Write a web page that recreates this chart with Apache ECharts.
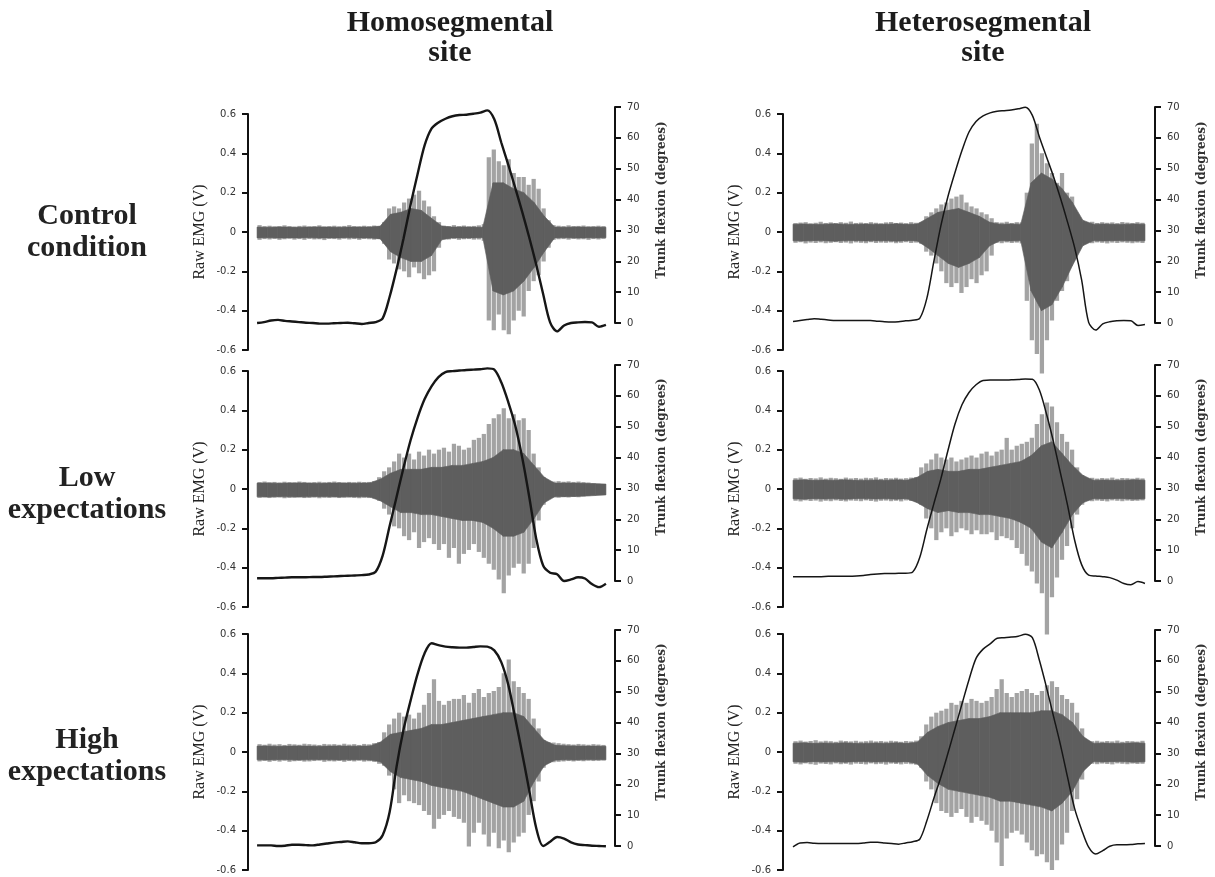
<!DOCTYPE html>
<html><head><meta charset="utf-8">
<script src="https://cdn.jsdelivr.net/npm/echarts@6/dist/echarts.min.js"></script>
<style>html,body{margin:0;padding:0;background:#fff}#c{width:1215px;height:877px}</style>
</head><body><div id="c"></div><script>
const colTitles = [['Homosegmental','site'],['Heterosegmental','site']];
const rowLabels = [['Control','condition'],['Low','expectations'],['High','expectations']];
const emgName = 'Raw EMG (V)';
const flexName = 'Trunk flexion (degrees)';

// Trunk flexion (degrees), sampled every 2% of the trial
const flexHomoControl = [0.0,0.3,0.8,1.0,0.7,0.5,0.3,0.1,0.0,-0.2,-0.2,-0.1,0.0,0.1,-0.1,-0.3,0.0,0.3,1.5,8.5,17.5,27.5,38.3,48.2,57.5,63.0,65.0,66.2,67.0,67.4,67.5,67.8,68.2,68.9,66.0,58.5,51.3,43.8,36.0,27.8,19.0,9.4,0.2,-2.7,-0.8,0.0,0.2,0.3,0.2,-1.2,-0.6];
const flexHeteroControl = [0.5,0.8,1.1,1.4,1.2,1.0,0.8,0.8,0.8,0.8,0.8,0.8,0.6,0.4,0.3,0.4,0.7,0.9,1.5,7.9,19.9,31.5,40.9,48.7,55.9,61.9,65.3,67.1,68.1,68.6,68.8,69.0,69.4,69.9,67.3,60.3,53.9,47.5,40.4,32.7,24.5,14.0,0.2,-2.3,-0.3,0.4,0.7,0.8,0.7,-0.8,-0.5];
const flexHomoLow = [0.9,0.9,0.9,1.0,1.1,1.2,1.2,1.2,1.3,1.3,1.4,1.5,1.6,1.7,1.8,1.9,2.1,3.0,8.2,17.8,27.3,36.8,45.6,52.9,58.9,63.1,66.1,67.7,68.0,68.2,68.4,68.5,68.6,68.9,68.5,64.4,58.0,50.4,40.0,27.4,13.8,5.0,2.7,2.2,0.0,0.5,1.2,0.8,-1.0,-2.0,-0.9];
const flexHeteroLow = [1.4,1.4,1.4,1.4,1.4,1.5,1.5,1.5,1.5,1.6,1.8,2.1,2.3,2.4,2.4,2.5,2.5,2.9,7.6,16.6,25.0,33.1,42.2,50.8,57.1,61.1,63.6,65.0,65.1,65.1,65.1,65.2,65.3,65.5,65.4,61.9,54.2,45.1,34.9,24.6,13.3,5.3,1.9,1.6,1.4,1.1,0.3,-0.8,-1.2,-0.2,-0.8];
const flexHomoHigh = [0.2,0.2,0.2,0.0,0.1,0.4,0.4,0.3,0.2,0.5,0.8,1.1,1.3,1.5,1.2,0.9,0.9,1.2,3.5,11.0,25.8,37.8,47.1,55.7,62.4,65.7,65.1,64.6,64.4,64.3,64.3,64.5,64.7,64.6,63.4,59.6,52.3,41.4,30.0,18.1,5.9,0.0,1.4,2.9,2.4,1.2,0.5,0.3,0.1,0.0,-0.1];
const flexHeteroHigh = [-0.3,1.0,1.1,0.9,0.8,0.8,0.8,0.8,0.8,0.8,1.0,1.2,1.2,1.0,0.8,0.6,1.0,1.4,2.2,8.1,15.4,22.3,30.0,38.0,46.0,53.9,60.8,63.8,65.5,67.3,67.5,67.7,68.0,68.6,67.5,60.2,51.5,42.1,32.7,22.3,12.2,5.3,-0.4,-2.6,-1.5,-0.1,0.4,0.4,0.5,0.7,0.8];

// Raw EMG envelope (V): positive and negative peaks, 70 slices of the trial
const emgHiHomoControl = [0.035,0.030,0.032,0.028,0.030,0.034,0.030,0.027,0.031,0.033,0.029,0.030,0.034,0.028,0.030,0.032,0.029,0.031,0.035,0.030,0.028,0.032,0.030,0.033,0.029,0.05,0.12,0.13,0.12,0.15,0.17,0.19,0.21,0.16,0.13,0.08,0.05,0.032,0.03,0.035,0.03,0.033,0.029,0.031,0.034,0.04,0.38,0.42,0.36,0.34,0.37,0.3,0.28,0.28,0.24,0.27,0.22,0.12,0.06,0.035,0.032,0.03,0.034,0.03,0.031,0.033,0.029,0.03,0.032,0.03];
const emgLoHomoControl = [-0.04,-0.036,-0.038,-0.035,-0.04,-0.037,-0.034,-0.039,-0.036,-0.04,-0.035,-0.038,-0.037,-0.041,-0.035,-0.036,-0.039,-0.034,-0.038,-0.036,-0.04,-0.035,-0.037,-0.039,-0.036,-0.06,-0.14,-0.16,-0.19,-0.2,-0.23,-0.18,-0.21,-0.24,-0.22,-0.2,-0.08,-0.036,-0.038,-0.035,-0.04,-0.037,-0.036,-0.039,-0.038,-0.045,-0.45,-0.5,-0.42,-0.5,-0.52,-0.45,-0.4,-0.43,-0.3,-0.25,-0.22,-0.15,-0.08,-0.04,-0.037,-0.036,-0.039,-0.035,-0.038,-0.037,-0.04,-0.036,-0.038,-0.035];
const emgHiHeteroControl = [0.045,0.048,0.05,0.044,0.047,0.052,0.046,0.049,0.045,0.05,0.047,0.053,0.046,0.048,0.045,0.05,0.047,0.044,0.049,0.051,0.046,0.048,0.045,0.05,0.047,0.049,0.08,0.1,0.12,0.14,0.15,0.17,0.18,0.19,0.15,0.13,0.12,0.1,0.09,0.07,0.05,0.048,0.052,0.046,0.05,0.049,0.2,0.45,0.55,0.4,0.35,0.3,0.25,0.3,0.2,0.18,0.09,0.05,0.048,0.052,0.046,0.05,0.047,0.049,0.045,0.051,0.048,0.046,0.05,0.047];
const emgLoHeteroControl = [-0.055,-0.052,-0.058,-0.054,-0.056,-0.053,-0.057,-0.055,-0.052,-0.056,-0.054,-0.058,-0.053,-0.055,-0.057,-0.052,-0.056,-0.054,-0.055,-0.053,-0.057,-0.055,-0.052,-0.056,-0.054,-0.06,-0.1,-0.12,-0.16,-0.2,-0.26,-0.28,-0.26,-0.31,-0.28,-0.24,-0.26,-0.22,-0.2,-0.12,-0.055,-0.057,-0.053,-0.056,-0.054,-0.058,-0.35,-0.55,-0.62,-0.72,-0.55,-0.45,-0.35,-0.3,-0.25,-0.15,-0.09,-0.056,-0.054,-0.057,-0.053,-0.055,-0.058,-0.054,-0.056,-0.053,-0.055,-0.057,-0.054,-0.056];
const emgHiHomoLow = [0.035,0.038,0.034,0.036,0.033,0.037,0.035,0.034,0.038,0.036,0.033,0.035,0.037,0.034,0.036,0.038,0.035,0.033,0.036,0.034,0.037,0.035,0.036,0.04,0.06,0.09,0.11,0.14,0.18,0.16,0.18,0.15,0.19,0.17,0.2,0.18,0.2,0.21,0.19,0.23,0.22,0.2,0.21,0.25,0.26,0.28,0.33,0.36,0.38,0.41,0.36,0.38,0.35,0.36,0.3,0.18,0.11,0.06,0.04,0.038,0.04,0.037,0.039,0.036,0.038,0.035,0.033,0.03,0.027,0.025];
const emgLoHomoLow = [-0.045,-0.042,-0.046,-0.044,-0.043,-0.047,-0.045,-0.044,-0.042,-0.046,-0.045,-0.043,-0.047,-0.044,-0.045,-0.042,-0.046,-0.044,-0.043,-0.045,-0.047,-0.044,-0.046,-0.048,-0.06,-0.1,-0.13,-0.19,-0.2,-0.24,-0.26,-0.22,-0.3,-0.27,-0.25,-0.28,-0.31,-0.28,-0.35,-0.3,-0.38,-0.33,-0.31,-0.28,-0.32,-0.35,-0.38,-0.41,-0.46,-0.53,-0.44,-0.4,-0.38,-0.43,-0.38,-0.3,-0.16,-0.08,-0.045,-0.042,-0.044,-0.041,-0.043,-0.04,-0.042,-0.038,-0.036,-0.033,-0.03,-0.028];
const emgHiHeteroLow = [0.055,0.058,0.052,0.056,0.054,0.059,0.053,0.057,0.055,0.052,0.058,0.054,0.056,0.053,0.057,0.055,0.059,0.052,0.056,0.054,0.057,0.053,0.055,0.058,0.06,0.11,0.13,0.15,0.18,0.16,0.15,0.16,0.14,0.15,0.16,0.17,0.16,0.18,0.19,0.17,0.19,0.2,0.26,0.2,0.22,0.23,0.24,0.26,0.33,0.38,0.44,0.42,0.34,0.28,0.24,0.2,0.11,0.07,0.055,0.057,0.053,0.056,0.054,0.058,0.052,0.056,0.055,0.053,0.057,0.054];
const emgLoHeteroLow = [-0.06,-0.063,-0.058,-0.061,-0.059,-0.064,-0.06,-0.062,-0.058,-0.061,-0.063,-0.059,-0.06,-0.062,-0.058,-0.061,-0.064,-0.06,-0.059,-0.062,-0.06,-0.063,-0.058,-0.061,-0.065,-0.08,-0.15,-0.2,-0.26,-0.22,-0.2,-0.24,-0.22,-0.2,-0.21,-0.23,-0.21,-0.23,-0.23,-0.22,-0.26,-0.24,-0.25,-0.26,-0.3,-0.33,-0.39,-0.42,-0.48,-0.53,-0.74,-0.55,-0.45,-0.36,-0.29,-0.2,-0.13,-0.08,-0.06,-0.062,-0.059,-0.061,-0.063,-0.058,-0.06,-0.062,-0.059,-0.061,-0.06,-0.058];
const emgHiHomoHigh = [0.04,0.037,0.042,0.038,0.04,0.036,0.041,0.039,0.037,0.042,0.04,0.038,0.036,0.041,0.039,0.04,0.037,0.042,0.038,0.04,0.036,0.041,0.039,0.045,0.05,0.1,0.14,0.17,0.2,0.18,0.19,0.17,0.2,0.24,0.3,0.37,0.26,0.24,0.26,0.27,0.27,0.29,0.25,0.3,0.32,0.28,0.3,0.31,0.33,0.4,0.47,0.36,0.33,0.3,0.27,0.17,0.12,0.06,0.05,0.048,0.045,0.042,0.04,0.038,0.041,0.039,0.037,0.04,0.038,0.036];
const emgLoHomoHigh = [-0.048,-0.045,-0.05,-0.046,-0.049,-0.044,-0.05,-0.047,-0.045,-0.049,-0.048,-0.046,-0.044,-0.05,-0.047,-0.048,-0.045,-0.05,-0.046,-0.048,-0.044,-0.049,-0.047,-0.05,-0.06,-0.07,-0.12,-0.19,-0.26,-0.22,-0.25,-0.26,-0.27,-0.3,-0.32,-0.39,-0.34,-0.32,-0.3,-0.33,-0.34,-0.36,-0.48,-0.41,-0.36,-0.42,-0.48,-0.41,-0.49,-0.45,-0.51,-0.46,-0.43,-0.41,-0.32,-0.25,-0.15,-0.08,-0.055,-0.052,-0.05,-0.048,-0.046,-0.048,-0.045,-0.047,-0.044,-0.046,-0.045,-0.043];
const emgHiHeteroHigh = [0.055,0.058,0.053,0.056,0.06,0.054,0.057,0.055,0.052,0.058,0.056,0.054,0.057,0.053,0.055,0.058,0.054,0.056,0.053,0.057,0.055,0.052,0.056,0.054,0.058,0.08,0.14,0.18,0.2,0.21,0.22,0.25,0.24,0.26,0.25,0.27,0.26,0.25,0.26,0.28,0.32,0.37,0.3,0.28,0.3,0.31,0.32,0.3,0.29,0.31,0.34,0.36,0.33,0.29,0.27,0.25,0.2,0.12,0.06,0.055,0.057,0.053,0.056,0.054,0.058,0.052,0.056,0.055,0.053,0.057];
const emgLoHeteroHigh = [-0.06,-0.063,-0.058,-0.062,-0.065,-0.059,-0.061,-0.063,-0.058,-0.062,-0.06,-0.064,-0.059,-0.061,-0.063,-0.058,-0.062,-0.06,-0.064,-0.059,-0.061,-0.063,-0.06,-0.062,-0.065,-0.08,-0.15,-0.19,-0.26,-0.3,-0.31,-0.33,-0.31,-0.29,-0.33,-0.36,-0.33,-0.35,-0.37,-0.4,-0.46,-0.58,-0.44,-0.41,-0.4,-0.42,-0.46,-0.5,-0.53,-0.52,-0.56,-0.6,-0.55,-0.47,-0.41,-0.3,-0.24,-0.14,-0.07,-0.06,-0.062,-0.059,-0.061,-0.063,-0.058,-0.06,-0.062,-0.059,-0.061,-0.06];

// Dense core of the EMG trace (V), 35 points across the trial
const coreHiHomoControl = [0.025,0.024,0.026,0.025,0.024,0.025,0.026,0.025,0.024,0.025,0.026,0.025,0.03,0.09,0.1,0.12,0.11,0.07,0.03,0.025,0.026,0.025,0.024,0.25,0.25,0.22,0.2,0.15,0.08,0.025,0.024,0.026,0.025,0.025,0.024];
const coreLoHomoControl = [-0.03,-0.029,-0.031,-0.03,-0.03,-0.029,-0.031,-0.03,-0.03,-0.029,-0.031,-0.03,-0.035,-0.1,-0.13,-0.15,-0.15,-0.12,-0.04,-0.03,-0.031,-0.03,-0.029,-0.3,-0.32,-0.3,-0.25,-0.18,-0.1,-0.03,-0.029,-0.031,-0.03,-0.03,-0.029];
const coreHiHeteroControl = [0.04,0.041,0.039,0.04,0.042,0.04,0.039,0.041,0.04,0.04,0.042,0.039,0.041,0.07,0.1,0.11,0.12,0.1,0.08,0.05,0.04,0.041,0.04,0.25,0.3,0.27,0.22,0.15,0.06,0.04,0.041,0.039,0.04,0.041,0.04];
const coreLoHeteroControl = [-0.045,-0.046,-0.044,-0.045,-0.047,-0.045,-0.044,-0.046,-0.045,-0.045,-0.047,-0.044,-0.046,-0.08,-0.12,-0.16,-0.18,-0.16,-0.13,-0.07,-0.045,-0.046,-0.045,-0.3,-0.4,-0.37,-0.28,-0.17,-0.07,-0.045,-0.046,-0.044,-0.045,-0.046,-0.045];
const coreHiHomoLow = [0.03,0.031,0.029,0.03,0.031,0.03,0.029,0.03,0.031,0.03,0.03,0.031,0.05,0.08,0.1,0.1,0.1,0.11,0.11,0.12,0.12,0.13,0.14,0.16,0.2,0.2,0.18,0.12,0.06,0.03,0.031,0.03,0.029,0.027,0.025];
const coreLoHomoLow = [-0.04,-0.041,-0.039,-0.04,-0.041,-0.04,-0.039,-0.04,-0.041,-0.04,-0.04,-0.041,-0.06,-0.09,-0.12,-0.12,-0.13,-0.13,-0.14,-0.15,-0.16,-0.16,-0.17,-0.2,-0.24,-0.24,-0.22,-0.15,-0.07,-0.04,-0.039,-0.038,-0.036,-0.033,-0.03];
const coreHiHeteroLow = [0.045,0.047,0.044,0.046,0.045,0.047,0.044,0.045,0.046,0.045,0.047,0.044,0.06,0.09,0.1,0.09,0.09,0.1,0.1,0.11,0.12,0.13,0.14,0.17,0.22,0.24,0.18,0.12,0.07,0.045,0.046,0.044,0.045,0.047,0.045];
const coreLoHeteroLow = [-0.05,-0.052,-0.049,-0.051,-0.05,-0.052,-0.049,-0.05,-0.051,-0.05,-0.052,-0.049,-0.07,-0.1,-0.12,-0.11,-0.12,-0.12,-0.13,-0.13,-0.14,-0.15,-0.17,-0.2,-0.27,-0.3,-0.22,-0.13,-0.07,-0.05,-0.051,-0.049,-0.05,-0.052,-0.05];
const coreHiHomoHigh = [0.03,0.031,0.029,0.03,0.031,0.03,0.029,0.03,0.031,0.03,0.03,0.031,0.05,0.09,0.1,0.11,0.12,0.14,0.14,0.15,0.16,0.17,0.18,0.19,0.2,0.2,0.18,0.12,0.06,0.035,0.032,0.031,0.03,0.03,0.029];
const coreLoHomoHigh = [-0.04,-0.041,-0.039,-0.04,-0.041,-0.04,-0.039,-0.04,-0.041,-0.04,-0.04,-0.041,-0.05,-0.1,-0.13,-0.14,-0.15,-0.17,-0.18,-0.19,-0.2,-0.22,-0.24,-0.26,-0.28,-0.28,-0.25,-0.15,-0.07,-0.042,-0.04,-0.041,-0.04,-0.039,-0.04];
const coreHiHeteroHigh = [0.045,0.047,0.044,0.046,0.045,0.047,0.044,0.045,0.046,0.045,0.047,0.044,0.05,0.1,0.13,0.15,0.16,0.17,0.17,0.18,0.2,0.2,0.2,0.2,0.21,0.21,0.19,0.15,0.08,0.045,0.046,0.044,0.045,0.047,0.045];
const coreLoHeteroHigh = [-0.05,-0.052,-0.049,-0.051,-0.05,-0.052,-0.049,-0.05,-0.051,-0.05,-0.052,-0.049,-0.06,-0.12,-0.16,-0.19,-0.2,-0.21,-0.22,-0.23,-0.25,-0.25,-0.26,-0.27,-0.28,-0.3,-0.26,-0.2,-0.1,-0.05,-0.051,-0.049,-0.05,-0.052,-0.05];

const panels = [
  {flex: flexHomoControl,  hi: emgHiHomoControl,  lo: emgLoHomoControl,  cHi: coreHiHomoControl,  cLo: coreLoHomoControl},
  {flex: flexHeteroControl,hi: emgHiHeteroControl,lo: emgLoHeteroControl,cHi: coreHiHeteroControl,cLo: coreLoHeteroControl},
  {flex: flexHomoLow,      hi: emgHiHomoLow,      lo: emgLoHomoLow,      cHi: coreHiHomoLow,      cLo: coreLoHomoLow},
  {flex: flexHeteroLow,    hi: emgHiHeteroLow,    lo: emgLoHeteroLow,    cHi: coreHiHeteroLow,    cLo: coreLoHeteroLow},
  {flex: flexHomoHigh,     hi: emgHiHomoHigh,     lo: emgLoHomoHigh,     cHi: coreHiHomoHigh,     cLo: coreLoHomoHigh},
  {flex: flexHeteroHigh,   hi: emgHiHeteroHigh,   lo: emgLoHeteroHigh,   cHi: coreHiHeteroHigh,   cLo: coreLoHeteroHigh}
];

const colGeom = [
  {left: 248, width: 367, xMin: -2.6, xMax: 102.6, lw: 2.4, nameX: 200, flexNameX: 662, titleX: 450},
  {left: 783, width: 372, xMin: -2.85, xMax: 102.85, lw: 1.5, nameX: 735, flexNameX: 1202, titleX: 983}
];
const rowGeom = [
  {emgTop: 114, flexTop: 107, labelY: [216, 248], flexNameY: 200},
  {emgTop: 371, flexTop: 365, labelY: [478, 510], flexNameY: 457},
  {emgTop: 634, flexTop: 630, labelY: [740, 772], flexNameY: 722}
];
const EMG_H = 236, FLEX_H = 216;

// peaks: one vertical spike per slice
function spikes(hi, lo, axisIdx, color, frac, z) {
  const n = hi.length, w = 100 / n;
  return {
    type: 'custom', xAxisIndex: axisIdx, yAxisIndex: axisIdx, silent: true, z: z, clip: false,
    data: hi.map((h, i) => [i, h, lo[i]]),
    encode: {x: 0, y: [1, 2]},
    renderItem: function (params, api) {
      const i = api.value(0);
      const c = (i + 0.5) * w, hw = w * frac / 2;
      const a = api.coord([c - hw, api.value(1)]);
      const b = api.coord([c + hw, api.value(2)]);
      return {type: 'rect', shape: {x: a[0], y: a[1], width: b[0] - a[0], height: b[1] - a[1]}, style: {fill: color}};
    }
  };
}
// dense core: continuous band through the core envelope points
function coreBand(hi, lo, axisIdx, color, z) {
  const n = hi.length;
  return {
    type: 'custom', xAxisIndex: axisIdx, yAxisIndex: axisIdx, silent: true, z: z, clip: false,
    data: hi.map((h, i) => [i, h, lo[i]]),
    encode: {x: 0, y: [1, 2]},
    renderItem: function (params, api) {
      const i = api.value(0);
      if (i >= n - 1) return null;
      const t0 = i * 100 / (n - 1), t1 = (i + 1) * 100 / (n - 1);
      const pts = [api.coord([t0, hi[i]]), api.coord([t1, hi[i + 1]]), api.coord([t1, lo[i + 1]]), api.coord([t0, lo[i]])];
      return {type: 'polygon', shape: {points: pts}, style: {fill: color, stroke: color, lineWidth: 0.6}};
    }
  };
}

const grids = [], xAxes = [], yAxes = [], series = [], graphics = [];
const axisCol = '#111';
panels.forEach((p, k) => {
  const r = Math.floor(k / 2), c = k % 2;
  const cg = colGeom[c], rg = rowGeom[r];
  const ei = 2 * k, fi = 2 * k + 1;
  grids.push({left: cg.left, width: cg.width, top: rg.emgTop, height: EMG_H});
  grids.push({left: cg.left, width: cg.width, top: rg.flexTop, height: FLEX_H});
  [ei, fi].forEach(g => xAxes.push({type: 'value', gridIndex: g, min: cg.xMin, max: cg.xMax, show: false}));
  yAxes.push({
    type: 'value', gridIndex: ei, position: 'left', min: -0.6, max: 0.6, interval: 0.2,
    axisLine: {show: true, onZero: false, lineStyle: {color: axisCol, width: 2}},
    axisTick: {show: true, length: 6, lineStyle: {color: axisCol, width: 2}},
    axisLabel: {fontSize: 10, fontFamily: 'DejaVu Sans', color: '#333', margin: 12,
      formatter: v => String(Math.round(v * 10) / 10)},
    splitLine: {show: false}
  });
  yAxes.push({
    type: 'value', gridIndex: fi, position: 'right', min: 0, max: 70, interval: 10,
    axisLine: {show: true, onZero: false, lineStyle: {color: axisCol, width: 2}},
    axisTick: {show: true, length: 6, lineStyle: {color: axisCol, width: 2}},
    axisLabel: {fontSize: 10, fontFamily: 'DejaVu Sans', color: '#333', margin: 12},
    splitLine: {show: false}
  });
  series.push(spikes(p.hi, p.lo, ei, '#a3a3a3', 0.85, 2));
  series.push(coreBand(p.cHi, p.cLo, ei, '#5e5e5e', 3));
  series.push({
    type: 'line', xAxisIndex: fi, yAxisIndex: fi, silent: true, z: 5, clip: false,
    data: p.flex.map((v, j) => [j * 100 / (p.flex.length - 1), v]),
    showSymbol: false, symbol: 'none', smooth: 0.3,
    lineStyle: {color: '#161616', width: cg.lw}
  });
  graphics.push({type: 'text', x: cg.nameX, y: rg.emgTop + EMG_H / 2, rotation: Math.PI / 2,
    style: {text: emgName, fontFamily: 'Liberation Serif', fontSize: 16, fill: '#222', align: 'center', verticalAlign: 'middle'}});
  graphics.push({type: 'text', x: cg.flexNameX, y: rg.flexNameY, rotation: Math.PI / 2,
    style: {text: flexName, fontFamily: 'DejaVu Serif', fontWeight: 'bold', fontSize: 12, fill: '#333', align: 'center', verticalAlign: 'middle'}});
});

colTitles.forEach((t, c) => {
  t.forEach((line, j) => graphics.push({type: 'text', x: colGeom[c].titleX, y: 23 + 30 * j,
    style: {text: line, fontFamily: 'Liberation Serif', fontWeight: 'bold', fontSize: 30, fill: '#1c1c1c', align: 'center', verticalAlign: 'middle'}}));
});
rowLabels.forEach((t, r) => {
  t.forEach((line, j) => graphics.push({type: 'text', x: 87, y: rowGeom[r].labelY[j],
    style: {text: line, fontFamily: 'Liberation Serif', fontWeight: 'bold', fontSize: 30, fill: '#222', align: 'center', verticalAlign: 'middle'}}));
});

const chart = echarts.init(document.getElementById('c'), null, {renderer: 'canvas'});
chart.setOption({
  backgroundColor: '#ffffff',
  animation: false,
  grid: grids, xAxis: xAxes, yAxis: yAxes, series: series, graphic: graphics
});
</script></body></html>
